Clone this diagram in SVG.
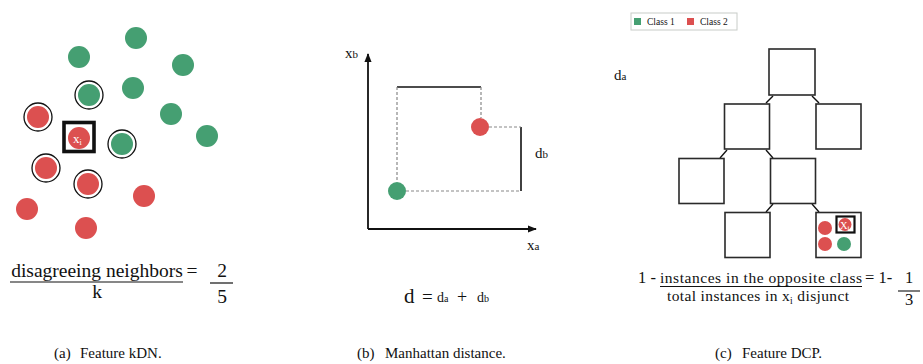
<svg xmlns="http://www.w3.org/2000/svg" width="923" height="364" viewBox="0 0 923 364">
<defs>
<style>
.t{font-family:"Liberation Serif","Times New Roman",serif;fill:#111}
.g{fill:#459f72}
.r{fill:#dc5050}
.ring{fill:none;stroke:#111;stroke-width:1.3}
.sq{fill:#fff;stroke:#2a2a2a;stroke-width:1.6}
.dash{stroke:#888;stroke-width:1.2;stroke-dasharray:3 2;fill:none}
.solid{stroke:#111;stroke-width:1.6;fill:none}
.ax{stroke:#111;stroke-width:1.8;fill:none}
</style>
<marker id="arr" viewBox="0 0 10 10" refX="9" refY="5" markerWidth="5" markerHeight="5" orient="auto">
<path d="M0,1 L10,5 L0,9 z" fill="#111"/>
</marker>
</defs>
<rect width="923" height="364" fill="#fff"/>

<!-- Panel (a) -->
<g id="panel-a">
<g id="a-green">
<circle class="g" cx="136" cy="38" r="11"/>
<circle class="g" cx="79" cy="57" r="11"/>
<circle class="g" cx="183" cy="65" r="11"/>
<circle class="g" cx="133" cy="88" r="11"/>
<circle class="g" cx="89" cy="95" r="11"/>
<circle class="g" cx="171" cy="114" r="11"/>
<circle class="g" cx="207" cy="136" r="11"/>
<circle class="g" cx="122" cy="144" r="11"/>
</g>
<g id="a-red">
<circle class="r" cx="38" cy="117" r="11"/>
<circle class="r" cx="46" cy="168" r="11"/>
<circle class="r" cx="88" cy="184" r="11"/>
<circle class="r" cx="144" cy="196" r="11"/>
<circle class="r" cx="27" cy="209" r="11"/>
<circle class="r" cx="86" cy="228" r="11"/>
</g>
<g id="a-rings">
<circle class="ring" cx="89" cy="95" r="14"/>
<circle class="ring" cx="38" cy="117" r="14"/>
<circle class="ring" cx="122" cy="144" r="14"/>
<circle class="ring" cx="46" cy="168" r="14"/>
<circle class="ring" cx="88" cy="184" r="14"/>
</g>
<g id="a-xi">
<rect x="64" y="122.5" width="30" height="29" fill="none" stroke="#111" stroke-width="3.6"/>
<circle class="r" cx="79" cy="138" r="11"/>
<text class="t" x="73" y="143" font-size="13" style="fill:#fff">x<tspan font-size="8" dy="2">i</tspan></text>
</g>
<g id="a-formula">
<text class="t" x="97" y="277" font-size="19.5" text-anchor="middle">disagreeing neighbors</text>
<line x1="10" y1="282" x2="183" y2="282" stroke="#111" stroke-width="1.2"/>
<text class="t" x="97" y="298" font-size="19.5" text-anchor="middle">k</text>
<text class="t" x="192" y="277" font-size="19.5" text-anchor="middle">=</text>
<text class="t" x="222" y="277" font-size="19.5" text-anchor="middle">2</text>
<line x1="210" y1="283" x2="233" y2="283" stroke="#111" stroke-width="1.2"/>
<text class="t" x="222" y="303" font-size="19.5" text-anchor="middle">5</text>
</g>
<g id="a-caption">
<text class="t" x="54" y="358" font-size="15">(a)</text>
<text class="t" x="80" y="358" font-size="15">Feature kDN.</text>
</g>
</g>

<!-- Panel (b) -->
<g id="panel-b">
<g id="b-connectors">
<line class="ax" x1="368" y1="229" x2="368" y2="54" marker-end="url(#arr)"/>
<line class="ax" x1="368" y1="229" x2="536" y2="229" marker-end="url(#arr)"/>
<polyline class="solid" points="397,87 481,87"/>
<line class="solid" x1="521" y1="127" x2="521" y2="191"/>
<line class="dash" x1="397" y1="87" x2="397" y2="182"/>
<line class="dash" x1="481" y1="87" x2="481" y2="118"/>
<line class="dash" x1="489" y1="127" x2="521" y2="127"/>
<line class="dash" x1="406" y1="191" x2="521" y2="191"/>
</g>
<circle id="b-red" class="r" cx="480" cy="127" r="9"/>
<circle id="b-green" class="g" cx="397" cy="191" r="9"/>
<text class="t" x="345" y="58" font-size="15">x<tspan font-size="11">b</tspan></text>
<text class="t" x="527" y="250" font-size="15">x<tspan font-size="11">a</tspan></text>
<text class="t" x="535" y="158" font-size="15">d<tspan font-size="11">b</tspan></text>
<g id="b-formula">
<text class="t" x="404" y="303" font-size="21">d</text>
<text class="t" x="422" y="303" font-size="19">=</text>
<text class="t" x="437" y="302" font-size="14">d<tspan font-size="10">a</tspan></text>
<text class="t" x="457" y="303" font-size="18">+</text>
<text class="t" x="477" y="302" font-size="14">d<tspan font-size="10">b</tspan></text>
</g>
<g id="b-caption">
<text class="t" x="357" y="358" font-size="15">(b)</text>
<text class="t" x="385" y="358" font-size="15">Manhattan distance.</text>
</g>
</g>

<!-- Panel (c) -->
<g id="panel-c">
<g id="c-legend">
<rect x="631" y="13" width="106" height="17" fill="#fff" stroke="#c8ccc8" stroke-width="1"/>
<rect class="g" x="634" y="18" width="7" height="7"/>
<text class="t" x="647" y="25" font-size="9.5">Class 1</text>
<rect class="r" x="687" y="18" width="7" height="7"/>
<text class="t" x="700" y="25" font-size="9.5">Class 2</text>
</g>
<text class="t" x="614" y="80" font-size="15">d<tspan font-size="11">a</tspan></text>
<g id="c-connectors" stroke="#111" stroke-width="1.4">
<line x1="773" y1="96" x2="766" y2="103"/>
<line x1="812" y1="96" x2="819" y2="103"/>
<line x1="727" y1="150" x2="720" y2="158"/>
<line x1="766" y1="150" x2="773" y2="158"/>
<line x1="773" y1="204" x2="766" y2="212"/>
<line x1="812" y1="204" x2="819" y2="212"/>
</g>
<g id="c-root"><rect class="sq" x="769" y="49" width="46" height="46"/></g>
<g id="c-n1"><rect class="sq" x="724.5" y="104" width="45" height="45"/></g>
<g id="c-n2"><rect class="sq" x="816" y="104" width="45" height="45"/></g>
<g id="c-n3"><rect class="sq" x="679" y="158.5" width="45" height="45"/></g>
<g id="c-n4"><rect class="sq" x="770.5" y="158.5" width="45" height="45"/></g>
<g id="c-n5"><rect class="sq" x="725" y="212.5" width="45" height="45"/></g>
<g id="c-n6">
<rect class="sq" x="816" y="212.5" width="45" height="45"/>
<circle class="r" cx="825" cy="228" r="7"/>
<circle class="r" cx="825" cy="244" r="7"/>
<circle class="g" cx="844" cy="244" r="7"/>
<rect x="836.5" y="216.5" width="18" height="16" fill="none" stroke="#111" stroke-width="2.2"/>
<circle class="r" cx="845" cy="224.5" r="6.5"/>
<text class="t" x="840" y="229" font-size="10.5" style="fill:#fff">X<tspan font-size="7" dy="1">i</tspan></text>
</g>
<g id="c-formula">
<text class="t" x="638" y="283" font-size="16.5">1 -</text>
<text class="t" x="660" y="283" font-size="15.5" textLength="202">instances in the opposite class</text>
<line x1="660" y1="286.5" x2="862" y2="286.5" stroke="#111" stroke-width="1.1"/>
<text class="t" x="667" y="300.5" font-size="15.5" textLength="182">total instances in x<tspan font-size="9.5" dy="3">i</tspan><tspan dy="-3"> disjunct</tspan></text>
<text class="t" x="865" y="283" font-size="16.5">= 1-</text>
<text class="t" x="909" y="283" font-size="16.5" text-anchor="middle">1</text>
<line x1="898" y1="291" x2="920" y2="291" stroke="#111" stroke-width="1.1"/>
<text class="t" x="909" y="305" font-size="16.5" text-anchor="middle">3</text>
</g>
<g id="c-caption">
<text class="t" x="715" y="358" font-size="15">(c)</text>
<text class="t" x="742" y="358" font-size="15">Feature DCP.</text>
</g>
</g>
</svg>
